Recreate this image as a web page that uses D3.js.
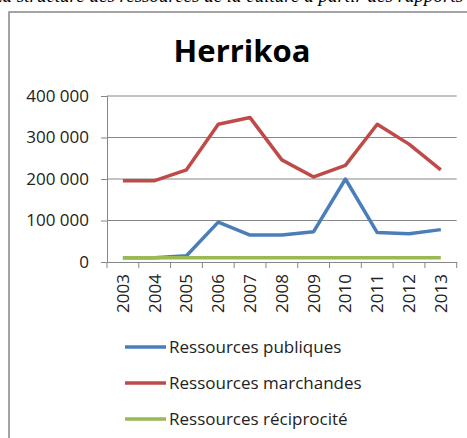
<!DOCTYPE html>
<html><head><meta charset="utf-8">
<script src="https://cdn.jsdelivr.net/npm/d3@7"></script>
<style>body{margin:0;background:#fff}svg{display:block}</style>
</head><body>
<script>
const years = ["2003","2004","2005","2006","2007","2008","2009","2010","2011","2012","2013"];
const publiques = [10000,10000,15000,96000,65000,65000,73000,200000,71000,68000,78000];
const marchandes = [196000,196000,222000,332000,348000,246000,205000,233000,332000,284000,222000];
const reciprocite = [10000,10000,10000,10000,10000,10000,10000,10000,10000,10000,10000];
const yTicks = [0,100000,200000,300000,400000];
const seriesNames = ["Ressources publiques","Ressources marchandes","Ressources réciprocité"];
const colors = ["#4A7EBB","#BE4B48","#98B954"];
const title = "Herrikoa";

const W=467,H=438;
const svg=d3.select("body").append("svg").attr("width",W).attr("height",H);
const font="'Open Sans', sans-serif";

// cut-off caption line above chart
svg.append("text").attr("x",-8).attr("y",2).attr("font-family","'Liberation Serif', serif")
  .attr("font-style","italic").attr("font-size",19).attr("fill","#000")
  .text("La structure des ressources de la culture à partir des rapports");

// chart frame
svg.append("rect").attr("x",9).attr("y",12).attr("width",470).attr("height",440)
  .attr("fill","#fff").attr("stroke","#878787").attr("stroke-width",1.5);

const x=d3.scaleBand().domain(years).range([107,456.7]);
const y=d3.scaleLinear().domain([0,400000]).range([262,96]);

// gridlines
svg.append("g").selectAll("line").data(yTicks.filter(d=>d>0)).join("line")
  .attr("x1",107).attr("x2",456.7).attr("y1",d=>y(d)).attr("y2",d=>y(d))
  .attr("stroke","#868686").attr("stroke-width",1);

const fmt=d=>d3.format(",")(d).replace(/,/g," ");
const yAxis=svg.append("g").attr("transform","translate(107,0)")
  .call(d3.axisLeft(y).tickValues(yTicks).tickFormat(fmt).tickSize(6).tickPadding(12));
yAxis.select(".domain").attr("stroke","#868686");
yAxis.selectAll(".tick line").attr("stroke","#868686");
yAxis.selectAll("text").attr("font-family",font).attr("font-size",17).attr("fill","#222");

const xAxis=svg.append("g").attr("transform","translate(0,262)")
  .call(d3.axisBottom(x).tickSize(0).tickFormat(d=>d));
xAxis.select(".domain").attr("stroke","#868686");
xAxis.selectAll("text").attr("font-family",font).attr("font-size",17).attr("fill","#222")
  .attr("text-anchor","end")
  .attr("transform","translate(6,12) rotate(-90)").attr("x",0).attr("y",0).attr("dy",0);
// tick marks at band boundaries
const bounds=years.map(d=>x(d)).concat([x(years[years.length-1])+x.bandwidth()]);
svg.append("g").selectAll("line").data(bounds).join("line")
  .attr("x1",d=>d).attr("x2",d=>d).attr("y1",262).attr("y2",268).attr("stroke","#868686");

const line=d3.line().x((d,i)=>x(years[i])+x.bandwidth()/2).y(d=>y(d));
const all=[publiques,marchandes,reciprocite];
[0,1,2].forEach(k=>{
  svg.append("path").datum(all[k]).attr("d",line).attr("fill","none")
    .attr("stroke",colors[k]).attr("stroke-width",3.5).attr("stroke-linejoin","round");
});

svg.append("text").attr("x",242).attr("y",62).attr("text-anchor","middle")
  .attr("font-family",font).attr("font-weight","bold").attr("font-size",31).attr("fill","#000").text(title);

const legY=[347,383,419];
seriesNames.forEach((n,k)=>{
  svg.append("line").attr("x1",125).attr("x2",166).attr("y1",legY[k]).attr("y2",legY[k])
    .attr("stroke",colors[k]).attr("stroke-width",3.5);
  svg.append("text").attr("x",169).attr("y",legY[k]+6).attr("font-family",font).attr("font-size",17)
    .attr("fill","#222").text(n);
});
</script>
</body></html>
